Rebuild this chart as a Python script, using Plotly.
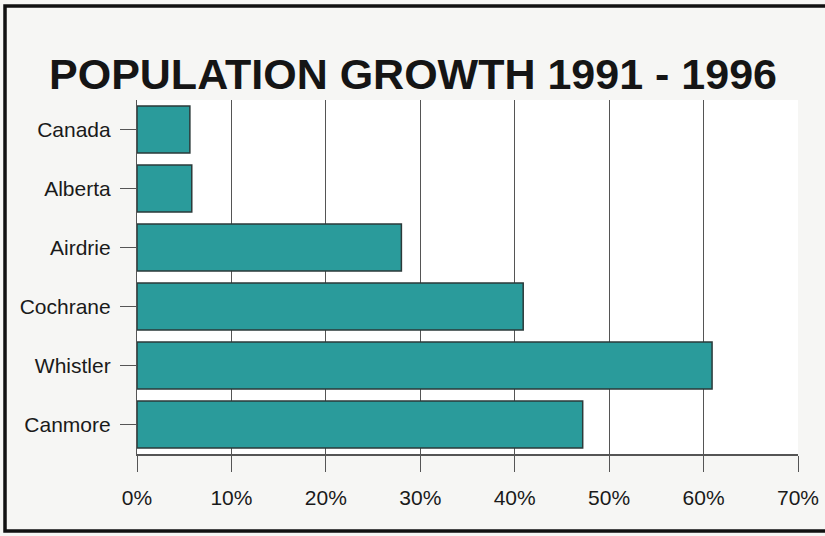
import plotly.graph_objects as go

categories = ["Canada", "Alberta", "Airdrie", "Cochrane", "Whistler", "Canmore"]
growth_pct = [5.6, 5.8, 28.0, 40.9, 60.9, 47.2]
tick_vals = [0, 10, 20, 30, 40, 50, 60, 70]
tick_text = ["0%", "10%", "20%", "30%", "40%", "50%", "60%", "70%"]

W, H = 825, 536
L, R, T, B = 137, 27, 100, 82
pw, ph = W - L - R, H - T - B

def px2paper_x(px):
    return (px - L) / pw

def px2paper_y(py):
    return (H - B - py) / ph

fig = go.Figure(go.Bar(
    x=growth_pct, y=categories, orientation="h",
    marker=dict(color="#2a9b9b", line=dict(color="#2b3a3a", width=1.5)),
    width=0.8,
))

fig.update_layout(
    width=W, height=H,
    margin=dict(l=L, r=R, t=T, b=B, autoexpand=False),
    paper_bgcolor="#f6f6f4",
    plot_bgcolor="white",
    showlegend=False,
    bargap=0.2,
    font=dict(family="Liberation Sans, Arial, sans-serif", size=21, color="#1a1a1a"),
    title=dict(
        text="<b>POPULATION GROWTH 1991 - 1996</b>",
        x=413 / W, xanchor="center",
        y=(H - 74) / H, yanchor="middle",
        font=dict(family="Liberation Sans, Arial, sans-serif", size=43, color="#151515"),
    ),
    xaxis=dict(
        range=[0, 70], tickvals=tick_vals, ticktext=tick_text,
        showgrid=True, gridcolor="#555555", gridwidth=1.2,
        ticks="outside", ticklen=16, tickcolor="#555555", tickwidth=1.2,
        showline=True, linecolor="#555555", linewidth=1.5,
        zeroline=False, fixedrange=True, automargin=False,
        ticklabelstandoff=8,
        tickfont=dict(size=21),
    ),
    yaxis=dict(
        autorange="reversed", categoryorder="array", categoryarray=categories,
        ticks="outside", ticklen=16, tickcolor="#555555", tickwidth=1.2,
        showline=True, linecolor="#555555", linewidth=1.2,
        showgrid=False, fixedrange=True, automargin=False,
        ticklabelstandoff=5,
        tickfont=dict(size=21),
    ),
    shapes=[dict(
        type="rect", xref="paper", yref="paper",
        x0=px2paper_x(5), x1=px2paper_x(840),
        y0=px2paper_y(531), y1=px2paper_y(6),
        line=dict(color="#111111", width=3.5),
        fillcolor="rgba(0,0,0,0)", layer="above",
    )],
)

fig.write_html("out.html", config={"displayModeBar": False},
               post_script="document.body.style.margin='0';")
